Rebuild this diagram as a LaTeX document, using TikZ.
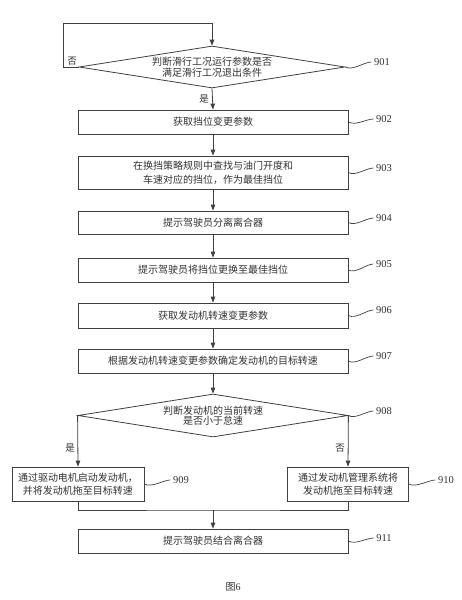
\documentclass[tikz,border=0pt]{standalone}
\usepackage{fontspec}
\setmainfont{Liberation Serif}
\newfontfamily\cjk{Noto Sans CJK SC}
\usetikzlibrary{shapes.geometric,arrows.meta,calc}
\begin{document}
\begin{tikzpicture}[x=1pt,y=-1pt,
  line/.style={draw=black!75, line width=0.8pt},
  arr/.style={line, -{Triangle[length=6pt,width=4.5pt]}},
  box/.style={draw=black!75, line width=0.8pt, rectangle, minimum width=270pt, minimum height=24pt, inner sep=0pt, font=\cjk\fontsize{10}{14}\selectfont, text=black!80, align=center},
  dia/.style={draw=black!75, line width=0.8pt, diamond, inner sep=0pt, aspect=6},
  txt/.style={font=\cjk\fontsize{10}{10.5}\selectfont, text=black!80, align=center, inner sep=0pt},
  num/.style={font=\fontsize{10.5}{12}\selectfont, text=black!80, inner sep=2.5pt},
  yn/.style={font=\cjk\fontsize{9.5}{11}\selectfont, text=black!80, inner sep=0pt},
  sq/.style={draw=black!75, line width=0.7pt}
]
\fill[white] (0,0) rectangle (462,600);
\useasboundingbox (0,0) rectangle (462,600);

% decision 901
\node[dia, minimum width=266pt, minimum height=42pt] (d1) at (212,67) {};
\node[txt] (t1) at (d1) {判断滑行工况运行参数是否\\满足滑行工况退出条件};
\coordinate (loopL) at (63,23);

% boxes
\node[box] (b2) at (213,122) {获取挡位变更参数};
\node[box, minimum height=33pt] (b3) at (213,172.5) {在换挡策略规则中查找与油门开度和\\车速对应的挡位，作为最佳挡位};
\node[box, minimum height=23pt] (b4) at (213,222.5) {提示驾驶员分离离合器};
\node[box] (b5) at (213,270) {提示驾驶员将挡位更换至最佳挡位};
\node[box, minimum height=25pt] (b6) at (213,315.5) {获取发动机转速变更参数};
\node[box] (b7) at (213,361) {根据发动机转速变更参数确定发动机的目标转速};

% decision 908
\node[dia, minimum width=270pt, minimum height=43pt] (d8) at (213,415.5) {};
\node[txt] (t8) at (d8) {判断发动机的当前转速\\是否小于怠速};

\node[box, minimum width=132pt, minimum height=34pt, font=\cjk\fontsize{10}{13}\selectfont] (b9) at (78,484) {通过驱动电机启动发动机，\\并将发动机拖至目标转速};
\node[box, minimum width=121pt, minimum height=34pt, font=\cjk\fontsize{10}{13}\selectfont] (b10) at (348,484) {通过发动机管理系统将\\发动机拖至目标转速};
\coordinate (m) at (213,510);
\node[box] (b11) at (213,541) {提示驾驶员结合离合器};

% connectors
\draw[arr] (d1.west) -| (loopL) -| (d1.north);
\draw[arr] (d1.south) -- (b2.north);
\draw[arr] (b2.south) -- (b3.north);
\draw[arr] (b3.south) -- (b4.north);
\draw[arr] (b4.south) -- (b5.north);
\draw[arr] (b5.south) -- (b6.north);
\draw[arr] (b6.south) -- (b7.north);
\draw[arr] (b7.south) -- (d8.north);
\draw[arr] (d8.west) -- (b9.north);
\draw[arr] (d8.east) -- (b10.north);
\draw[line] (b9.south) |- (m) -| (b10.south);
\draw[arr] (m) -- (b11.north);

% yes / no labels
\node[yn] (n1) at (72,61) {否};
\node[yn] (y1) at (204,99) {是};
\node[yn] (y8) at (70,448) {是};
\node[yn] (n8) at (340,448) {否};

% reference numbers
\node[num] (l1) at (382,62) {901};
\node[num] (l2) at (384,119) {902};
\node[num] (l3) at (384,168) {903};
\node[num] (l4) at (384,218) {904};
\node[num] (l5) at (384,264) {905};
\node[num] (l6) at (384,310) {906};
\node[num] (l7) at (384,356) {907};
\node[num] (l8) at (384,411) {908};
\node[num] (l9) at (181,480) {909};
\node[num] (l10) at (446,480) {910};
\node[num] (l11) at (384,538) {911};

\draw[sq] (d1.east) .. controls +(7,4) and +(-7,0) .. (l1.west);
\draw[sq] (b2.east) .. controls +(7,4) and +(-7,0) .. (l2.west);
\draw[sq] (b3.east) .. controls +(7,4) and +(-7,0) .. (l3.west);
\draw[sq] (b4.east) .. controls +(7,4) and +(-7,0) .. (l4.west);
\draw[sq] (b5.east) .. controls +(7,4) and +(-7,0) .. (l5.west);
\draw[sq] (b6.east) .. controls +(7,4) and +(-7,0) .. (l6.west);
\draw[sq] (b7.east) .. controls +(7,4) and +(-7,0) .. (l7.west);
\draw[sq] (d8.east) .. controls +(7,4) and +(-7,0) .. (l8.west);
\draw[sq] (b9.east) .. controls +(7,4) and +(-7,0) .. (l9.west);
\draw[sq] (b10.east) .. controls +(7,4) and +(-7,0) .. (l10.west);
\draw[sq] (b11.east) .. controls +(7,4) and +(-7,0) .. (l11.west);

\node[font=\cjk\fontsize{10}{12}\selectfont, text=black!80, inner sep=0pt] (fig) at (233,587) {图\fontspec{Liberation Serif}6};
\end{tikzpicture}
\end{document}
